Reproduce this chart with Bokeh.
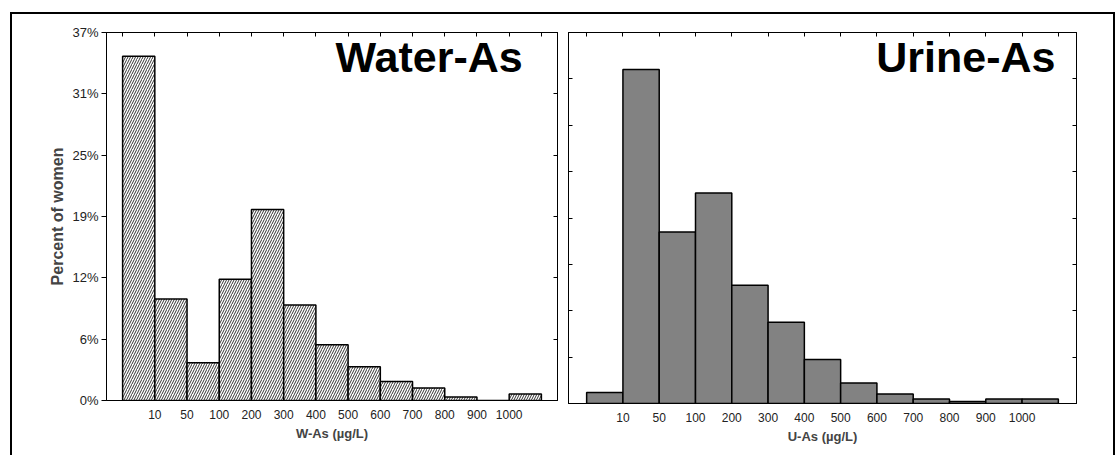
from bokeh.plotting import figure
from bokeh.models import (ColumnDataSource, FixedTicker, LinearAxis, Range1d,
                          CustomJSTickFormatter, Label)
from bokeh.layouts import row
from bokeh.embed import file_html
from bokeh.resources import INLINE

bins = ["<10", "10-50", "50-100", "100-200", "200-300", "300-400", "400-500",
        "500-600", "600-700", "700-800", "800-900", "900-1000", ">1000"]
edge_labels = ["10", "50", "100", "200", "300", "400", "500", "600", "700",
               "800", "900", "1000"]
water_pct = [34.6, 10.2, 3.8, 12.2, 19.2, 9.6, 5.6, 3.4, 1.9, 1.25, 0.35, 0.0, 0.65]
urine_pct = [1.1, 33.3, 17.1, 21.0, 11.8, 8.1, 4.4, 2.05, 0.95, 0.45, 0.2, 0.45, 0.45]
y_max = 37.0

FONT = "Liberation Sans"
xpos = [i + 1 for i in range(len(bins))]
edges_inner = [i + 1.5 for i in range(len(edge_labels))]
edges_all = [i + 0.5 for i in range(len(bins) + 1)]


def blank_axis(ticks):
    return LinearAxis(ticker=FixedTicker(ticks=ticks), major_tick_in=4,
                      major_tick_out=0, minor_tick_line_color=None,
                      formatter=CustomJSTickFormatter(code="return '';"),
                      major_label_standoff=0, axis_line_color="black")


def make_panel(values, title, xlabel, ylabel, n_yint, show_ylabels,
               fill, hatch, mb_left, mb_right, frame_w, frame_h, mb_bottom,
               title_x, title_y):
    src = ColumnDataSource(dict(x=xpos, top=values, bin=bins))
    p = figure(frame_width=frame_w, frame_height=frame_h,
               min_border_left=mb_left, min_border_right=mb_right,
               min_border_top=18, min_border_bottom=mb_bottom,
               x_range=Range1d(0, len(bins) + 1), y_range=Range1d(0, y_max),
               output_backend="svg", toolbar_location=None, tools="")
    p.xgrid.visible = False
    p.ygrid.visible = False
    p.outline_line_color = "black"
    p.outline_line_width = 1
    p.background_fill_color = "white"
    p.border_fill_color = "white"

    if hatch:
        p.vbar(x="x", top="top", width=1.0, source=src, fill_color="white",
               line_color="black", line_width=1.5, hatch_pattern="/",
               hatch_color="black", hatch_scale=5, hatch_weight=0.8)
    else:
        p.vbar(x="x", top="top", width=1.0, source=src, fill_color=fill,
               line_color="black", line_width=1.5)

    yticks = [y_max * k / n_yint for k in range(n_yint + 1)]

    # bottom axis
    xa = p.xaxis[0]
    xa.ticker = FixedTicker(ticks=edges_inner)
    xa.major_label_overrides = {t: l for t, l in zip(edges_inner, edge_labels)}
    xa.major_tick_line_color = None
    xa.major_tick_out = 0
    xa.major_tick_in = 0
    xa.minor_tick_line_color = None
    xa.major_label_standoff = 9
    xa.major_label_text_font = FONT
    xa.major_label_text_font_size = "12px"
    xa.major_label_text_color = "#222222"
    xa.axis_label = xlabel
    xa.axis_label_text_font = FONT
    xa.axis_label_text_font_style = "bold"
    xa.axis_label_text_font_size = "13px"
    xa.axis_label_standoff = 4
    xa.axis_line_color = "black"

    # left axis
    ya = p.yaxis[0]
    ya.ticker = FixedTicker(ticks=yticks)
    ya.minor_tick_line_color = None
    ya.axis_line_color = "black"
    if show_ylabels:
        ya.formatter = CustomJSTickFormatter(code="return Math.round(tick) + '%';")
        ya.major_tick_out = 5
        ya.major_tick_in = 0
        ya.major_label_standoff = 3
        ya.major_label_text_font = FONT
        ya.major_label_text_font_size = "13px"
        ya.major_label_text_color = "#222222"
        ya.axis_label = ylabel
        ya.axis_label_text_font = FONT
        ya.axis_label_text_font_style = "bold"
        ya.axis_label_text_font_size = "16px"
        ya.axis_label_standoff = 3
    else:
        ya.major_tick_out = 0
        ya.major_tick_in = 4
        ya.major_label_standoff = 0
        ya.formatter = CustomJSTickFormatter(code="return '';")

    p.add_layout(blank_axis(yticks), "right")
    p.add_layout(blank_axis(edges_all), "above")

    p.add_layout(Label(x=title_x, y=title_y, text=title, text_align="right",
                       text_baseline="alphabetic", text_font=FONT,
                       text_font_style="bold", text_font_size="43px",
                       text_color="black"))
    return p


p1 = make_panel(water_pct, "Water-As", "W-As (\u00b5g/L)", "Percent of women", 6,
                True, None, True, 94, 5, 451, 368, 55, 12.92, 34.55)
p2 = make_panel(urine_pct, "Urine-As", "U-As (\u00b5g/L)", "", 8,
                False, "#828282", False, 6, 37, 508, 371, 52, 13.42, 34.55)

layout = row(p1, p2, margin=(12, 0, 0, 10),
             styles={"border-top": "2px solid black",
                     "border-left": "2px solid black",
                     "border-right": "2px solid black"})

open("out.html", "w").write(file_html(layout, INLINE))
